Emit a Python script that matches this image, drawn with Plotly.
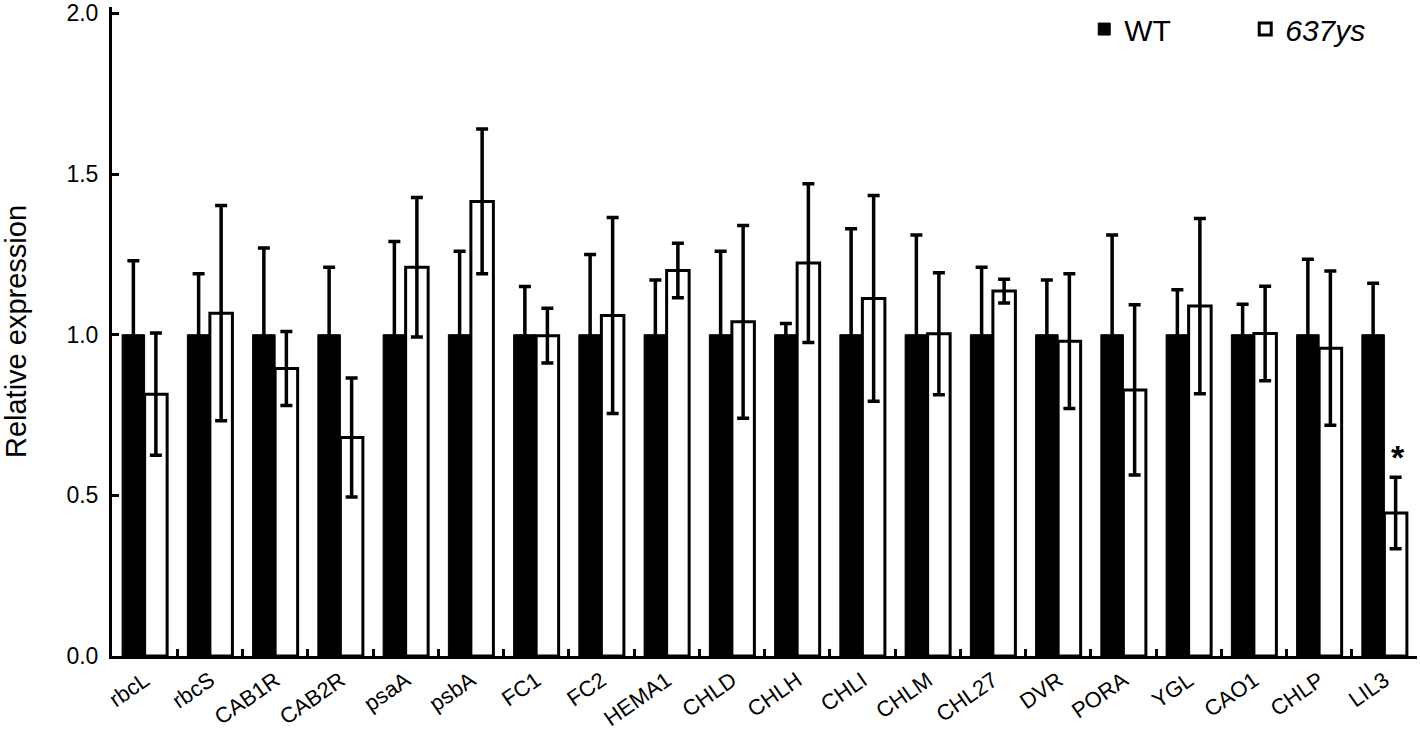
import plotly.graph_objects as go

# genes measured
genes = ['rbcL', 'rbcS', 'CAB1R', 'CAB2R', 'psaA', 'psbA', 'FC1', 'FC2', 'HEMA1', 'CHLD',
         'CHLH', 'CHLI', 'CHLM', 'CHL27', 'DVR', 'PORA', 'YGL', 'CAO1', 'CHLP', 'LIL3']

# WT (normalised to 1)
wt = [1.0] * 20
wt_err = [0.23, 0.19, 0.27, 0.21, 0.29, 0.26, 0.15, 0.25, 0.17, 0.26,
          0.035, 0.33, 0.31, 0.21, 0.17, 0.31, 0.14, 0.095, 0.235, 0.16]

# 637ys mutant
ys = [0.815, 1.067, 0.895, 0.68, 1.21, 1.415, 0.997, 1.06, 1.20, 1.04,
      1.223, 1.113, 1.003, 1.136, 0.98, 0.828, 1.089, 1.004, 0.958, 0.445]
ys_err = [0.19, 0.335, 0.115, 0.185, 0.217, 0.225, 0.085, 0.305, 0.085, 0.30,
          0.247, 0.32, 0.19, 0.037, 0.21, 0.265, 0.273, 0.147, 0.24, 0.111]

y_ticks = [0, 0.5, 1.0, 1.5, 2.0]

fuente = 'Arial, Liberation Sans, sans-serif'

fig = go.Figure()
fig.add_trace(go.Bar(
    x=genes, y=wt, name='WT',
    marker=dict(color='black', line=dict(color='black', width=1)),
    error_y=dict(type='data', array=wt_err, color='black', thickness=3.5, width=6)
))
fig.add_trace(go.Bar(
    x=genes, y=ys, name='<i>637ys</i>',
    marker=dict(color='white', line=dict(color='black', width=3)),
    error_y=dict(type='data', array=ys_err, color='black', thickness=3.5, width=6)
))

# asterisco de significancia sobre LIL3
fig.add_annotation(x=genes[-1], y=ys[-1] + ys_err[-1], text='<b>*</b>', showarrow=False,
                   xshift=14, yshift=20, yanchor='middle',
                   font=dict(family=fuente, size=34, color='black'))

fig.update_layout(
    width=1420, height=732,
    margin=dict(l=112, r=3, t=5, b=76),
    plot_bgcolor='white', paper_bgcolor='white',
    barmode='group', bargap=0.31, bargroupgap=0,
    font=dict(family=fuente, color='black'),
    showlegend=True,
    legend=dict(orientation='h', x=0.745, xanchor='left', y=0.966, yanchor='middle',
                font=dict(size=30, family=fuente), entrywidth=116, entrywidthmode='pixels',
                bgcolor='rgba(0,0,0,0)'),
    xaxis=dict(
        showline=True, linecolor='black', linewidth=3, automargin=False,
        ticks='inside', tickson='boundaries', ticklen=7, tickwidth=3, tickcolor='black',
        tickangle=-35, tickfont=dict(size=22, family=fuente),
        showgrid=False, zeroline=False
    ),
    yaxis=dict(
        range=[0, 2.02], tickmode='array', tickvals=y_ticks, tickformat='.1f',
        showline=True, linecolor='black', linewidth=3, automargin=False,
        ticks='inside', ticklen=7, tickwidth=3, tickcolor='black',
        tickfont=dict(size=23, family=fuente), ticklabelstandoff=6,
        title=dict(text='Relative expression', font=dict(size=29, family=fuente), standoff=35),
        showgrid=False, zeroline=False
    )
)

# sin margen del body y sin barra de herramientas
fig.write_html('out.html', config={'displayModeBar': False},
               post_script="document.body.style.margin='0';")
